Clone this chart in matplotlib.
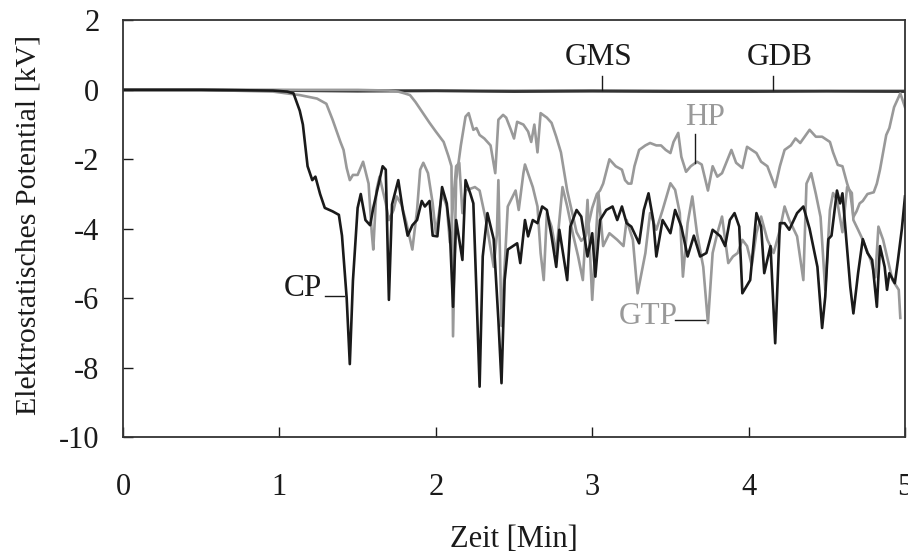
import matplotlib
matplotlib.use("Agg")
import matplotlib.pyplot as plt

plt.rcParams['font.family'] = ['Liberation Serif', 'DejaVu Serif']
plt.rcParams['axes.unicode_minus'] = False

# --- data (time in min, potential in kV) ---
cp_t = [0, 0.5, 0.96, 1.05, 1.09, 1.13, 1.15, 1.18, 1.21, 1.23, 1.26, 1.29, 1.34, 1.38,
        1.40, 1.43, 1.45, 1.47, 1.50, 1.52, 1.55, 1.58, 1.60, 1.63, 1.66, 1.68, 1.70, 1.72,
        1.76, 1.79, 1.82, 1.85, 1.88, 1.91, 1.93, 1.96, 1.98, 2.01, 2.04, 2.07, 2.09, 2.11,
        2.13, 2.17, 2.19, 2.22, 2.24, 2.26, 2.28, 2.30, 2.33, 2.37, 2.40, 2.42, 2.44, 2.46,
        2.52, 2.54, 2.57, 2.59, 2.62, 2.65, 2.68, 2.71, 2.74, 2.77, 2.79, 2.84, 2.86, 2.90,
        2.93, 2.97, 3.00, 3.02, 3.05, 3.09, 3.13, 3.16, 3.19, 3.22, 3.25, 3.30, 3.33, 3.36,
        3.39, 3.41, 3.45, 3.50, 3.53, 3.57, 3.61, 3.65, 3.69, 3.73, 3.77, 3.82, 3.85, 3.88,
        3.91, 3.94, 3.96, 4.01, 4.05, 4.08, 4.10, 4.14, 4.17, 4.20, 4.23, 4.26, 4.31, 4.35,
        4.39, 4.44, 4.47, 4.49, 4.51, 4.53, 4.565, 4.585, 4.60, 4.63, 4.65, 4.67, 4.70, 4.73,
        4.76, 4.79, 4.82, 4.84, 4.87, 4.885, 4.90, 4.935, 4.955, 4.98, 5.0]
cp_v = [0, 0, -0.02, -0.05, -0.1, -0.6, -1.0, -2.2, -2.6, -2.5, -3.0, -3.4, -3.5, -3.6,
        -4.2, -6.0, -7.9, -5.5, -3.4, -3.0, -3.75, -3.9, -3.4, -2.8, -2.2, -2.3, -6.05, -3.3,
        -2.6, -3.5, -4.2, -3.9, -3.75, -3.2, -3.36, -3.2, -4.2, -4.22, -2.8, -3.27, -4.1, -6.25,
        -3.75, -4.9, -2.6, -2.98, -3.27, -5.85, -8.55, -4.8, -3.55, -4.3, -6.63, -8.45, -5.48, -4.6,
        -4.42, -4.99, -3.75, -4.22, -3.75, -3.84, -3.36, -3.46, -4.22, -5.1, -4.03, -5.48, -3.94, -3.46,
        -3.65, -4.8, -4.13, -5.38, -3.75, -3.46, -3.36, -3.75, -3.36, -3.84, -3.94, -4.42, -3.46, -2.98,
        -3.75, -4.8, -3.75, -4.13, -3.46, -3.94, -4.8, -4.2, -4.8, -4.7, -4.03, -4.22, -4.5, -3.75,
        -3.55, -3.94, -5.86, -5.48, -3.55, -3.94, -5.28, -4.5, -7.3, -3.84, -3.84, -4.03, -3.55, -3.36,
        -4.0, -5.1, -6.86, -5.96, -4.3, -4.2, -2.9, -3.27, -2.98, -4.6, -5.67, -6.44, -5.28, -4.3,
        -4.7, -4.9, -6.25, -4.5, -5.1, -5.76, -5.28, -5.57, -4.9, -4.0, -3.07]

gtp_t = [0, 0.5, 0.96, 1.13, 1.24, 1.30, 1.34, 1.39, 1.41, 1.43, 1.45, 1.47, 1.50, 1.535,
         1.57, 1.59, 1.60, 1.62, 1.64, 1.68, 1.70, 1.73, 1.75, 1.78, 1.81, 1.85, 1.88, 1.90,
         1.92, 1.95, 1.98, 2.00, 2.04, 2.07, 2.09, 2.13, 2.15, 2.17, 2.19, 2.25, 2.28, 2.32,
         2.37, 2.39, 2.40, 2.42, 2.46, 2.51, 2.53, 2.56, 2.57, 2.62, 2.65, 2.67, 2.69, 2.71,
         2.74, 2.77, 2.81, 2.84, 2.88, 2.91, 2.94, 2.97, 3.00, 3.04, 3.07, 3.11, 3.16, 3.20,
         3.22, 3.26, 3.29, 3.34, 3.37, 3.41, 3.45, 3.50, 3.53, 3.56, 3.58, 3.61, 3.64, 3.67,
         3.71, 3.74, 3.77, 3.80, 3.83, 3.85, 3.87, 3.90, 3.93, 3.96, 3.99, 4.02, 4.05, 4.08,
         4.12, 4.16, 4.20, 4.23, 4.26, 4.31, 4.35, 4.37, 4.40, 4.43, 4.46, 4.49, 4.52, 4.54,
         4.565, 4.60, 4.63, 4.66, 4.67, 4.70, 4.73, 4.78, 4.81, 4.83, 4.86, 4.89, 4.92, 4.96,
         4.97]
gtp_v = [0, 0, -0.05, -0.15, -0.25, -0.4, -0.86, -1.5, -1.73, -2.25, -2.6, -2.45, -2.45, -2.07,
         -2.7, -4.1, -4.6, -2.9, -2.5, -3.27, -3.75, -3.46, -3.07, -3.3, -3.8, -4.6, -3.46, -2.3,
         -2.1, -2.4, -3.27, -4.13, -2.98, -3.36, -4.4, -2.2, -2.1, -3.55, -2.9, -2.8, -2.9, -3.75,
         -5.1, -4.2, -2.6, -6.8, -3.36, -2.9, -3.46, -2.4, -2.15, -2.8, -3.36, -4.7, -5.48, -3.55,
         -3.94, -4.7, -2.8, -3.36, -4.22, -4.8, -5.48, -3.17, -6.05, -2.98, -4.5, -4.13, -4.32, -4.5,
         -3.75, -4.32, -5.86, -4.7, -3.55, -4.03, -3.46, -2.69, -2.88, -3.55, -5.38, -3.84, -3.07, -4.13,
         -5.1, -6.72, -4.7, -4.13, -3.65, -4.32, -4.99, -4.8, -4.7, -4.32, -4.5, -5.05, -4.13, -3.65,
         -4.32, -4.7, -4.03, -3.36, -3.75, -4.22, -5.48, -2.7, -2.4, -3.0, -3.66, -5.76, -3.46, -2.97,
         -3.17, -4.1, -2.8, -2.97, -3.75, -4.03, -4.32, -4.9, -5.4, -3.94, -4.32, -4.9, -5.48, -5.76,
         -6.57]

hp_t = [0, 1.0, 1.5, 1.70, 1.76, 1.80, 1.835, 1.87, 1.90, 1.93, 1.96, 2.00, 2.05, 2.08,
        2.10, 2.11, 2.13, 2.16, 2.19, 2.21, 2.24, 2.26, 2.28, 2.31, 2.35, 2.38, 2.40, 2.43,
        2.45, 2.48, 2.50, 2.52, 2.56, 2.59, 2.61, 2.63, 2.65, 2.67, 2.71, 2.74, 2.77, 2.80,
        2.84, 2.87, 2.90, 2.93, 2.96, 3.00, 3.03, 3.05, 3.07, 3.11, 3.15, 3.19, 3.21, 3.23,
        3.25, 3.27, 3.30, 3.34, 3.37, 3.41, 3.44, 3.47, 3.50, 3.52, 3.55, 3.57, 3.60, 3.63,
        3.67, 3.70, 3.74, 3.77, 3.80, 3.83, 3.89, 3.92, 3.96, 3.99, 4.02, 4.05, 4.08, 4.12,
        4.17, 4.20, 4.23, 4.27, 4.30, 4.33, 4.39, 4.43, 4.47, 4.52, 4.54, 4.57, 4.60, 4.63,
        4.65, 4.67, 4.69, 4.71, 4.73, 4.76, 4.80, 4.82, 4.84, 4.86, 4.88, 4.90, 4.93, 4.97,
        5.0]
hp_v = [0, 0, 0, -0.02, -0.05, -0.1, -0.15, -0.35, -0.55, -0.75, -0.95, -1.2, -1.5, -1.9,
        -2.2, -7.1, -2.6, -1.6, -0.77, -0.67, -1.15, -1.1, -1.3, -1.4, -1.6, -2.4, -0.86, -0.72,
        -0.8, -1.15, -1.4, -0.92, -1.0, -1.2, -1.5, -1.0, -1.8, -0.67, -0.8, -0.95, -1.35, -1.8,
        -2.9, -3.5, -4.1, -4.35, -4.2, -3.4, -3.0, -2.9, -2.7, -2.0, -2.2, -2.3, -2.6, -2.7,
        -2.7, -2.2, -1.73, -1.6, -1.53, -1.6, -1.6, -1.73, -1.82, -1.5, -1.24, -1.93, -2.36, -2.2,
        -2.07, -2.15, -2.9, -2.2, -2.5, -2.4, -1.73, -2.1, -2.25, -1.64, -1.73, -1.82, -2.07, -2.2,
        -2.8, -2.2, -1.73, -1.6, -1.4, -1.53, -1.15, -1.35, -1.35, -1.5, -1.8, -2.16, -2.2, -2.7,
        -2.97, -3.66, -3.5, -3.27, -3.2, -3.0, -2.95, -2.7, -2.3, -1.8, -1.3, -1.1, -0.5, -0.1,
        -0.5]

ref_t = [0, 0.5, 1.0, 1.5, 2.0, 2.5, 3.0, 3.5, 4.0, 4.5, 5.0]
gms_v = [0, 0, -0.02, -0.04, -0.03, -0.05, -0.04, -0.05, -0.05, -0.04, -0.05]
gdb_v = [0, 0, -0.01, -0.02, -0.02, -0.03, -0.02, -0.03, -0.03, -0.03, -0.03]

x_ticks = [0, 1, 2, 3, 4, 5]
y_ticks = [-10, -8, -6, -4, -2, 0, 2]

black = '#1a1a1a'
grey = '#999999'
lw = 1.9

fig = plt.figure(figsize=(9.08, 5.53), dpi=100)
ax = fig.add_axes([0.1355, 0.2098, 0.8612, 0.7532])

ax.plot(ref_t, gdb_v, color='#555555', lw=lw)
ax.plot(ref_t, gms_v, color='#333333', lw=lw)
ax.plot(hp_t, hp_v, color=grey, lw=lw)
ax.plot(gtp_t, gtp_v, color=grey, lw=lw)
ax.plot(cp_t, cp_v, color=black, lw=lw)

ax.set_xlim(0, 5)
ax.set_ylim(-10, 2)
ax.set_xticks(x_ticks)
ax.set_xticklabels([str(v) for v in x_ticks])
ax.set_yticks(y_ticks)
ax.set_yticklabels([str(v) for v in y_ticks])
ax.tick_params(axis='x', direction='in', length=7, width=1, pad=26, labelsize=22,
               top=False, colors='#1a1a1a')
ax.tick_params(axis='y', direction='in', length=7, width=1, pad=17, labelsize=22,
               right=False, colors='#1a1a1a')
for s in ax.spines.values():
    s.set_color('#333333')
    s.set_linewidth(1.3)

ax.set_xlabel('Zeit [Min]', fontsize=22, color='#1a1a1a')
ax.set_ylabel('Elektrostatisches Potential [kV]', fontsize=21.5, color='#1a1a1a')
ax.xaxis.set_label_coords(0.5, -0.212)
ax.yaxis.set_label_coords(-0.104, 0.51)

# curve labels with short leader lines
fs = 22.5
ax.text(3.04, 0.92, 'GMS', fontsize=fs, ha='center', va='center', color=black)
ax.plot([3.06, 3.06], [0.40, 0.0], color=black, lw=1)
ax.text(4.20, 0.92, 'GDB', fontsize=fs, ha='center', va='center', color=black)
ax.plot([4.156, 4.156], [0.40, 0.0], color=black, lw=1)
ax.text(3.72, -0.81, 'HP', fontsize=fs, ha='center', va='center', color=grey)
ax.plot([3.66, 3.66], [-1.27, -2.1], color=black, lw=1)
ax.text(1.15, -5.71, 'CP', fontsize=fs, ha='center', va='center', color=black)
ax.plot([1.29, 1.41], [-5.94, -5.94], color=black, lw=1)
ax.text(3.36, -6.54, 'GTP', fontsize=fs, ha='center', va='center', color=grey)
ax.plot([3.53, 3.72], [-6.63, -6.63], color=black, lw=1)

fig.savefig('out.png', dpi=100)
